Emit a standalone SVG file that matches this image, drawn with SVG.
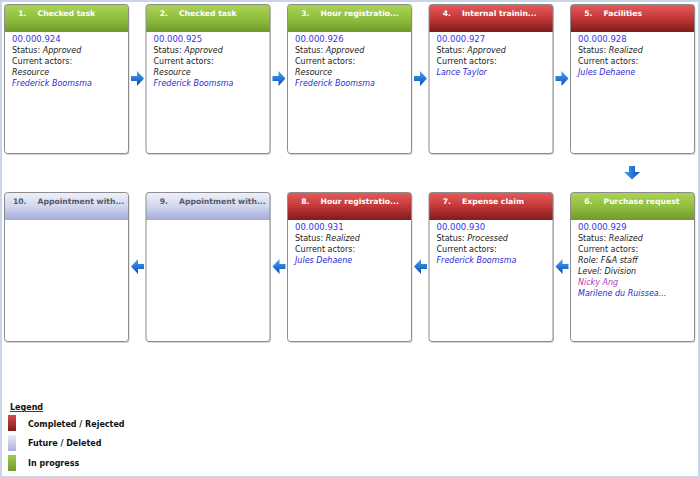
<svg xmlns="http://www.w3.org/2000/svg" width="700" height="478" viewBox="0 0 700 478">
<defs>
<linearGradient id="gGreen" x1="0" y1="0" x2="0" y2="1"><stop offset="0" stop-color="#aad454"/><stop offset="0.5" stop-color="#92bf40"/><stop offset="1" stop-color="#6f9a2c"/></linearGradient>
<linearGradient id="gRed" x1="0" y1="0" x2="0" y2="1"><stop offset="0" stop-color="#e85a5a"/><stop offset="0.5" stop-color="#c23838"/><stop offset="1" stop-color="#7e1c1c"/></linearGradient>
<linearGradient id="gBlue" x1="0" y1="0" x2="0" y2="1"><stop offset="0" stop-color="#eef1fb"/><stop offset="0.5" stop-color="#d2d7ef"/><stop offset="1" stop-color="#a3aad6"/></linearGradient>
<linearGradient id="gArrowH" x1="0" y1="0" x2="0" y2="1"><stop offset="0" stop-color="#4aa8f4"/><stop offset="1" stop-color="#0848b8"/></linearGradient>
<linearGradient id="gArrowV" x1="0" y1="0" x2="1" y2="0"><stop offset="0" stop-color="#4aa8f4"/><stop offset="1" stop-color="#0848b8"/></linearGradient>
<linearGradient id="gLRed" x1="0" y1="0" x2="0" y2="1"><stop offset="0" stop-color="#d84a4a"/><stop offset="1" stop-color="#7e1c1c"/></linearGradient>
<linearGradient id="gLBlue" x1="0" y1="0" x2="0" y2="1"><stop offset="0" stop-color="#e8ebf8"/><stop offset="1" stop-color="#a9b0da"/></linearGradient>
<linearGradient id="gLGreen" x1="0" y1="0" x2="0" y2="1"><stop offset="0" stop-color="#a2cc4c"/><stop offset="1" stop-color="#6f9a2c"/></linearGradient>
<clipPath id="c"><rect x="0" y="0" width="124" height="149" rx="3"/></clipPath>
</defs>
<style>
text{font-family:"DejaVu Sans",Verdana,sans-serif;font-size:8px;fill:#222}
.t{font-weight:bold;fill:#fff;font-size:7.7px}
.tf{font-weight:bold;fill:#555a66;font-size:7.7px}
.num{fill:#3333ee;font-size:8.5px}
.it{font-style:italic}
.nm{font-style:italic;fill:#2a2ad8}
.pu{font-style:italic;fill:#b03ab0}
.box{fill:none;stroke:#8c8c8c;stroke-width:1}
.sh{fill:#d4d4d4}
.lg{font-weight:bold;font-size:8px;fill:#111}
</style>
<rect x="1" y="1" width="698" height="476" fill="#fff" stroke="#c9d6e8" stroke-width="2"/>

<g id="node1" transform="translate(4.5,4.5)">
<rect class="sh" x="1" y="1.5" width="124" height="149" rx="3"/>
<g clip-path="url(#c)"><rect width="124" height="149" fill="#fff"/><rect width="124" height="27.5" fill="url(#gGreen)"/></g>
<rect class="box" width="124" height="149" rx="3"/>
<text class="t" x="22" y="11.8" text-anchor="end">1.</text><text class="t" x="33" y="11.8">Checked task</text>
<text class="num" x="7.5" y="37.5">00.000.924</text>
<text x="7.5" y="48.5">Status: <tspan class="it">Approved</tspan></text>
<text x="7.5" y="59.5">Current actors:</text>
<text class="it" x="7.5" y="70.5">Resource</text>
<text class="nm" x="7.5" y="81.5">Frederick Boomsma</text>
</g>

<g id="node2" transform="translate(146,4.5)">
<rect class="sh" x="1" y="1.5" width="124" height="149" rx="3"/>
<g clip-path="url(#c)"><rect width="124" height="149" fill="#fff"/><rect width="124" height="27.5" fill="url(#gGreen)"/></g>
<rect class="box" width="124" height="149" rx="3"/>
<text class="t" x="22" y="11.8" text-anchor="end">2.</text><text class="t" x="33" y="11.8">Checked task</text>
<text class="num" x="7.5" y="37.5">00.000.925</text>
<text x="7.5" y="48.5">Status: <tspan class="it">Approved</tspan></text>
<text x="7.5" y="59.5">Current actors:</text>
<text class="it" x="7.5" y="70.5">Resource</text>
<text class="nm" x="7.5" y="81.5">Frederick Boomsma</text>
</g>

<g id="node3" transform="translate(287.5,4.5)">
<rect class="sh" x="1" y="1.5" width="124" height="149" rx="3"/>
<g clip-path="url(#c)"><rect width="124" height="149" fill="#fff"/><rect width="124" height="27.5" fill="url(#gGreen)"/></g>
<rect class="box" width="124" height="149" rx="3"/>
<text class="t" x="22" y="11.8" text-anchor="end">3.</text><text class="t" x="33" y="11.8">Hour registratio...</text>
<text class="num" x="7.5" y="37.5">00.000.926</text>
<text x="7.5" y="48.5">Status: <tspan class="it">Approved</tspan></text>
<text x="7.5" y="59.5">Current actors:</text>
<text class="it" x="7.5" y="70.5">Resource</text>
<text class="nm" x="7.5" y="81.5">Frederick Boomsma</text>
</g>

<g id="node4" transform="translate(429,4.5)">
<rect class="sh" x="1" y="1.5" width="124" height="149" rx="3"/>
<g clip-path="url(#c)"><rect width="124" height="149" fill="#fff"/><rect width="124" height="27.5" fill="url(#gRed)"/></g>
<rect class="box" width="124" height="149" rx="3"/>
<text class="t" x="22" y="11.8" text-anchor="end">4.</text><text class="t" x="33" y="11.8">Internal trainin...</text>
<text class="num" x="7.5" y="37.5">00.000.927</text>
<text x="7.5" y="48.5">Status: <tspan class="it">Approved</tspan></text>
<text x="7.5" y="59.5">Current actors:</text>
<text class="nm" x="7.5" y="70.5">Lance Taylor</text>
</g>

<g id="node5" transform="translate(570.5,4.5)">
<rect class="sh" x="1" y="1.5" width="124" height="149" rx="3"/>
<g clip-path="url(#c)"><rect width="124" height="149" fill="#fff"/><rect width="124" height="27.5" fill="url(#gRed)"/></g>
<rect class="box" width="124" height="149" rx="3"/>
<text class="t" x="22" y="11.8" text-anchor="end">5.</text><text class="t" x="33" y="11.8">Facilities</text>
<text class="num" x="7.5" y="37.5">00.000.928</text>
<text x="7.5" y="48.5">Status: <tspan class="it">Realized</tspan></text>
<text x="7.5" y="59.5">Current actors:</text>
<text class="nm" x="7.5" y="70.5">Jules Dehaene</text>
</g>

<g id="node6" transform="translate(570.5,192.5)">
<rect class="sh" x="1" y="1.5" width="124" height="149" rx="3"/>
<g clip-path="url(#c)"><rect width="124" height="149" fill="#fff"/><rect width="124" height="27.5" fill="url(#gGreen)"/></g>
<rect class="box" width="124" height="149" rx="3"/>
<text class="t" x="22" y="11.8" text-anchor="end">6.</text><text class="t" x="33" y="11.8">Purchase request</text>
<text class="num" x="7.5" y="37.5">00.000.929</text>
<text x="7.5" y="48.5">Status: <tspan class="it">Realized</tspan></text>
<text x="7.5" y="59.5">Current actors:</text>
<text class="it" x="7.5" y="70.5">Role: F&amp;A staff</text>
<text class="it" x="7.5" y="81">Level: Division</text>
<text class="pu" x="7.5" y="92">Nicky Ang</text>
<text class="nm" x="7.5" y="103">Marilene du Ruissea...</text>
</g>

<g id="node7" transform="translate(429,192.5)">
<rect class="sh" x="1" y="1.5" width="124" height="149" rx="3"/>
<g clip-path="url(#c)"><rect width="124" height="149" fill="#fff"/><rect width="124" height="27.5" fill="url(#gRed)"/></g>
<rect class="box" width="124" height="149" rx="3"/>
<text class="t" x="22" y="11.8" text-anchor="end">7.</text><text class="t" x="33" y="11.8">Expense claim</text>
<text class="num" x="7.5" y="37.5">00.000.930</text>
<text x="7.5" y="48.5">Status: <tspan class="it">Processed</tspan></text>
<text x="7.5" y="59.5">Current actors:</text>
<text class="nm" x="7.5" y="70.5">Frederick Boomsma</text>
</g>

<g id="node8" transform="translate(287.5,192.5)">
<rect class="sh" x="1" y="1.5" width="124" height="149" rx="3"/>
<g clip-path="url(#c)"><rect width="124" height="149" fill="#fff"/><rect width="124" height="27.5" fill="url(#gRed)"/></g>
<rect class="box" width="124" height="149" rx="3"/>
<text class="t" x="22" y="11.8" text-anchor="end">8.</text><text class="t" x="33" y="11.8">Hour registratio...</text>
<text class="num" x="7.5" y="37.5">00.000.931</text>
<text x="7.5" y="48.5">Status: <tspan class="it">Realized</tspan></text>
<text x="7.5" y="59.5">Current actors:</text>
<text class="nm" x="7.5" y="70.5">Jules Dehaene</text>
</g>

<g id="node9" transform="translate(146,192.5)">
<rect class="sh" x="1" y="1.5" width="124" height="149" rx="3"/>
<g clip-path="url(#c)"><rect width="124" height="149" fill="#fff"/><rect width="124" height="27.5" fill="url(#gBlue)"/></g>
<rect class="box" width="124" height="149" rx="3"/>
<text class="tf" x="22" y="11.8" text-anchor="end">9.</text><text class="tf" x="33" y="11.8">Appointment with...</text>
</g>

<g id="node10" transform="translate(4.5,192.5)">
<rect class="sh" x="1" y="1.5" width="124" height="149" rx="3"/>
<g clip-path="url(#c)"><rect width="124" height="149" fill="#fff"/><rect width="124" height="27.5" fill="url(#gBlue)"/></g>
<rect class="box" width="124" height="149" rx="3"/>
<text class="tf" x="22" y="11.8" text-anchor="end">10.</text><text class="tf" x="33" y="11.8">Appointment with...</text>
</g>

<g id="connectors">
<path d="M131,76 h6 v-5 l7,7.5 l-7,7.5 v-5 h-6 z" fill="url(#gArrowH)"/>
<path d="M272.5,76 h6 v-5 l7,7.5 l-7,7.5 v-5 h-6 z" fill="url(#gArrowH)"/>
<path d="M414,76 h6 v-5 l7,7.5 l-7,7.5 v-5 h-6 z" fill="url(#gArrowH)"/>
<path d="M555.5,76 h6 v-5 l7,7.5 l-7,7.5 v-5 h-6 z" fill="url(#gArrowH)"/>
<path d="M629,166 h6 v6 h5 l-8,7.5 l-8,-7.5 h5 z" fill="url(#gArrowV)"/>
<path d="M568.5,264 h-6 v-5 l-7,7.5 l7,7.5 v-5 h6 z" fill="url(#gArrowH)"/>
<path d="M427,264 h-6 v-5 l-7,7.5 l7,7.5 v-5 h6 z" fill="url(#gArrowH)"/>
<path d="M285.5,264 h-6 v-5 l-7,7.5 l7,7.5 v-5 h6 z" fill="url(#gArrowH)"/>
<path d="M144,264 h-6 v-5 l-7,7.5 l7,7.5 v-5 h6 z" fill="url(#gArrowH)"/>
</g>

<g id="legend">
<text class="lg" x="10" y="410" text-decoration="underline">Legend</text>
<rect x="8" y="415" width="8" height="16" fill="url(#gLRed)"/>
<text class="lg" x="28" y="426.5">Completed / Rejected</text>
<rect x="8" y="435" width="8" height="16" fill="url(#gLBlue)"/>
<text class="lg" x="28" y="446">Future / Deleted</text>
<rect x="8" y="455" width="8" height="16" fill="url(#gLGreen)"/>
<text class="lg" x="28" y="466">In progress</text>
</g>
</svg>
